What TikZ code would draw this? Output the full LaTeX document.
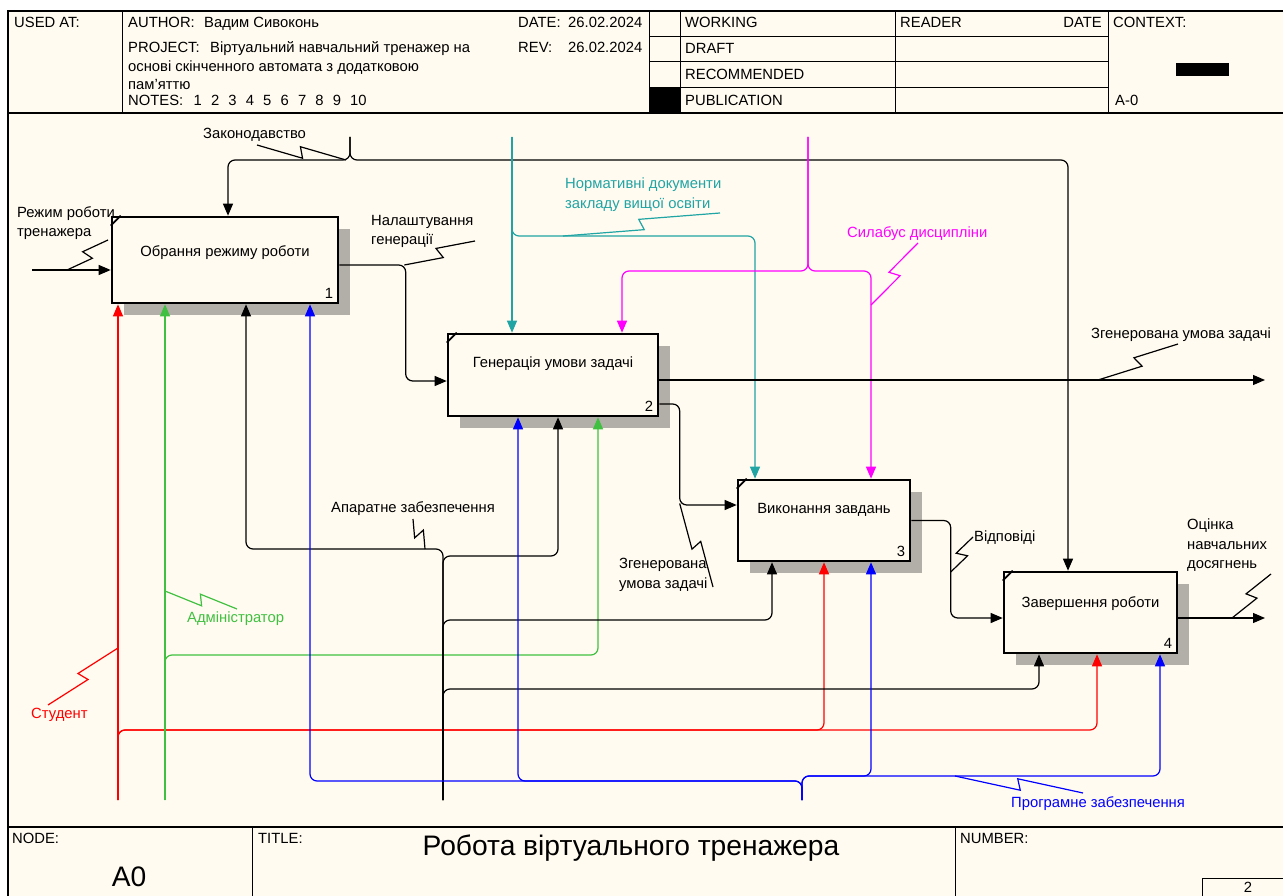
\documentclass[tikz,border=0pt]{standalone}
\usepackage{fontspec}
\setmainfont{Liberation Sans}
\usetikzlibrary{arrows.meta}
\usetikzlibrary{calc}
\usetikzlibrary{shadows}
\definecolor{paper}{RGB}{255,251,240}
\definecolor{boxgrey}{RGB}{178,175,168}
\definecolor{ired}{RGB}{255,0,0}
\definecolor{igreen}{RGB}{64,192,64}
\definecolor{iblue}{RGB}{0,0,255}
\definecolor{iteal}{RGB}{32,164,164}
\definecolor{ipink}{RGB}{255,0,255}
\tikzset{arr/.style = {-{Triangle[length=12pt, width=10pt]}, line width=1.2pt, rounded corners=7pt}}
\tikzset{box/.style = {draw, line width=2.6pt, fill=paper,
                       drop shadow={shadow xshift=12pt, shadow yshift=-12pt, fill=boxgrey, opacity=1}}}
\tikzset{lbl/.style = {inner sep=0, align=left, font=\fontsize{14.8}{19.5}\selectfont}}
\tikzset{hdr/.style = {inner sep=0, anchor=base west, font=\fontsize{14.8}{18.5}\selectfont}}
\tikzset{big/.style = {inner sep=0, anchor=base, font=\fontsize{28.2}{30}\selectfont}}
\newcommand{\zigline}[3][black]{%
  \coordinate (zigA) at (#2);
  \coordinate (zigB) at (#3);
  \draw [#1, line width=1.2pt] (zigA) -- ($(zigA)!0.5!(zigB)!2pt!(zigB)!5.5pt!-90:(zigB)$)
        -- ($(zigA)!0.5!(zigB)!-2pt!(zigB)!5.5pt!90:(zigB)$) -- (zigB);}

\begin{document}
\begin{tikzpicture}[x=1pt, y=-1pt]
  \useasboundingbox (0, 0) rectangle (1283, 896);
  \fill [paper] (8, 11) rectangle (1295, 900);
  \draw [line width=1.2pt] (8, 11) rectangle (1295, 900);
  \draw [line width=1.2pt] (8, 113) -- (1295, 113);
  \draw [line width=1.2pt] (8, 827) -- (1295, 827);

  \draw [line width=1pt] (122, 11) -- (122, 113);
  \draw [line width=1pt] (649, 11) -- (649, 113);
  \draw [line width=1pt] (680, 11) -- (680, 113);
  \draw [line width=1pt] (895, 11) -- (895, 113);
  \draw [line width=1pt] (1108, 11) -- (1108, 113);
  \draw [line width=1pt] (649, 37) -- (1108, 37);
  \draw [line width=1pt] (649, 62) -- (1108, 62);
  \draw [line width=1pt] (649, 88) -- (1108, 88);
  \fill (649, 88) rectangle (680, 113);
  \fill (1176, 63) rectangle (1229, 76);
  \draw [line width=1pt] (252, 827) -- (252, 900);
  \draw [line width=1pt] (955, 827) -- (955, 900);
  \draw [line width=1pt] (1202, 878) rectangle (1295, 900);

  \node [hdr] (usedat) at (14, 27.3) {USED AT:};
  \node [hdr] (author) at (128, 27.3) {AUTHOR:};
  \node [hdr] (authname) at (204, 27.3) {Вадим Сивоконь};
  \node [hdr] (proj) at (128, 52.3) {PROJECT:};
  \node [hdr] (projone) at (210, 52.3) {Віртуальний навчальний тренажер на};
  \node [hdr] (projtwo) at (128, 71.3) {основі скінченного автомата з додатковою};
  \node [hdr] (projthree) at (128, 89.3) {пам'яттю};
  \node [hdr] (notes) at (128, 105.3) {NOTES:};
  \foreach \i in {1,...,10}
    \node [hdr] (note\i) at (176 + 17.4*\i, 105.3) {\i};
  \node [hdr] (date) at (518, 27.3) {DATE:};
  \node [hdr] (dateval) at (568, 27.3) {26.02.2024};
  \node [hdr] (rev) at (518, 52.3) {REV:};
  \node [hdr] (revval) at (568, 52.3) {26.02.2024};
  \node [hdr] (working) at (685, 27.3) {WORKING};
  \node [hdr] (draft) at (685, 53.3) {DRAFT};
  \node [hdr] (recom) at (685, 79.3) {RECOMMENDED};
  \node [hdr] (publ) at (685, 105.3) {PUBLICATION};
  \node [hdr] (reader) at (900, 27.3) {READER};
  \node [hdr, anchor=base east] (readdate) at (1102, 27.3) {DATE};
  \node [hdr] (context) at (1113, 27.3) {CONTEXT:};
  \node [hdr] (ctxnode) at (1115, 105.3) {A-0};

  \node [hdr] (nodehdr) at (12, 843.3) {NODE:};
  \node [big] (nodeval) at (129, 886) {A0};
  \node [hdr] (titlehdr) at (258, 843.3) {TITLE:};
  \node [big] (title) at (631, 855) {Робота віртуального тренажера};
  \node [hdr] (numhdr) at (960, 843.3) {NUMBER:};
  \node [hdr, anchor=base] (pagenum) at (1248, 892) {2};

  \node [box, minimum width=226, minimum height=86] (b1) at (225, 260) {};
  \node [box, minimum width=210, minimum height=82] (b2) at (553, 375) {};
  \node [box, minimum width=172, minimum height=81] (b3) at (824, 520.5) {};
  \node [box, minimum width=173, minimum height=81] (b4) at (1090.5, 612.5) {};
  \foreach \b in {b1, b2, b3, b4}
    \draw [line width=1.8pt] ([yshift=-10pt]\b.north west) -- ([xshift=10pt]\b.north west);

  \node [lbl, anchor=base] (b1t) at ([yshift=3.7pt]b1.center) {Обрання режиму роботи};
  \node [lbl, anchor=base] (b2t) at ([yshift=7.7pt]b2.center) {Генерація умови задачі};
  \node [lbl, anchor=base] (b3t) at ([yshift=7.2pt]b3.center) {Виконання завдань};
  \node [lbl, anchor=base] (b4t) at ([yshift=5.2pt]b4.center) {Завершення роботи};
  \node [lbl, anchor=base east] (b1n) at ([shift={(-6pt, 6pt)}]b1.south east) {1};
  \node [lbl, anchor=base east] (b2n) at ([shift={(-6pt, 6pt)}]b2.south east) {2};
  \node [lbl, anchor=base east] (b3n) at ([shift={(-6pt, 6pt)}]b3.south east) {3};
  \node [lbl, anchor=base east] (b4n) at ([shift={(-6pt, 6pt)}]b4.south east) {4};

  \coordinate (modein) at (32, 270);
  \coordinate (law) at (350, 137);
  \coordinate (lawbus) at (350, 160);
  \coordinate (norm) at (512, 137);
  \coordinate (normbus) at (512, 236);
  \coordinate (syl) at (808, 137);
  \coordinate (sylbus) at (808, 271);
  \coordinate (genout) at (1265, 380);
  \coordinate (evalout) at (1265, 618);
  \coordinate (stud) at (118, 800);
  \coordinate (studbus) at (118, 730);
  \coordinate (admin) at (165, 800);
  \coordinate (adminbus) at (165, 655);
  \coordinate (hw) at (443, 800);
  \coordinate (hwbusl) at (443, 549);
  \coordinate (hwbusr) at (443, 556);
  \coordinate (hwbus3) at (443, 620);
  \coordinate (hwbus4) at (443, 689);
  \coordinate (soft) at (802, 800);
  \coordinate (softbusl) at (802, 781);
  \coordinate (softbusr) at (802, 776);

  \draw [arr] (modein) -- (modein -| b1.west);
  \draw [arr] (law) -- (lawbus) -| ([xshift=3pt]b1.north);
  \draw [arr] (law) -- (lawbus) -| ([xshift=-22.5pt]b4.north);
  \draw [arr] ([yshift=-5pt]b1.east) -| ([shift={(-41pt, -6pt)}]b2.west) -- ([yshift=-6pt]b2.west);
  \draw [arr, iteal] (norm) -- (norm |- b2.north);
  \draw [arr, iteal] (norm) -- (normbus) -| ([xshift=-69pt]b3.north);
  \draw [arr, ipink] (syl) -- (sylbus) -| ([xshift=69pt]b2.north);
  \draw [arr, ipink] (syl) -- (sylbus) -| ([xshift=47pt]b3.north);
  \draw [arr] ([yshift=-5pt]b2.east) -- (genout);
  \draw [arr] ([yshift=-29pt]b2.east) -| ([shift={(-57pt, 15.5pt)}]b3.west) -- ([yshift=15.5pt]b3.west);
  \draw [arr] (b3.east) -| ([shift={(-52pt, -5.5pt)}]b4.west) -- ([yshift=-5.5pt]b4.west);
  \draw [arr] ([yshift=-5.5pt]b4.east) -- (evalout);

  \draw [arr, ired] (stud) -- (stud |- b1.south);
  \draw [arr, ired] (stud) -- (studbus) -| (b3.south);
  \draw [arr, ired] (stud) -- (studbus) -| ([xshift=6.5pt]b4.south);
  \draw [arr, igreen] (admin) -- (admin |- b1.south);
  \draw [arr, igreen] (admin) -- (adminbus) -| ([xshift=45pt]b2.south);
  \draw [arr] (hw) -- (hwbusl) -| ([xshift=21pt]b1.south);
  \draw [arr] (hw) -- (hwbusr) -| ([xshift=5pt]b2.south);
  \draw [arr] (hw) -- (hwbus3) -| ([xshift=-52pt]b3.south);
  \draw [arr] (hw) -- (hwbus4) -| ([xshift=-51.5pt]b4.south);
  \draw [arr, iblue] (soft) -- (softbusl) -| ([xshift=85pt]b1.south);
  \draw [arr, iblue] (soft) -- (softbusl) -| ([xshift=-35pt]b2.south);
  \draw [arr, iblue] (soft) -- (softbusr) -| ([xshift=47pt]b3.south);
  \draw [arr, iblue] (soft) -- (softbusr) -| ([xshift=69.5pt]b4.south);

  \node [lbl, anchor=base west] (lawl) at (203, 138.3) {Законодавство};
  \coordinate (lawz) at (257, 145);
  \zigline{[xshift=-4pt]lawbus}{lawz}
  \node [lbl, anchor=north west] (model) at (17, 206) {Режим роботи\\тренажера};
  \coordinate (modez) at (108, 240);
  \zigline{[xshift=35pt]modein}{modez}
  \node [lbl, anchor=north west] (setl) at (371, 215) {Налаштування\\генерації};
  \coordinate (setz) at (475, 241);
  \zigline{[shift={(65pt, -5pt)}]b1.east}{setz}
  \node [lbl, anchor=north west, iteal] (norml) at (565, 178) {Нормативні документи\\закладу вищої освіти};
  \coordinate (normz) at (720, 213);
  \zigline[iteal]{[xshift=51pt]normbus}{normz}
  \node [lbl, anchor=base west, ipink] (syll) at (847, 237.3) {Силабус дисципліни};
  \coordinate (sylz) at (918, 243);
  \zigline[ipink]{[shift={(63pt, -34pt)}]sylbus}{sylz}
  \node [lbl, anchor=base west] (genl) at (1091, 338.3) {Згенерована умова задачі};
  \coordinate (genz) at (1178, 344);
  \zigline{[xshift=-167pt]genout}{genz}
  \node [lbl, anchor=north west] (gentwol) at (619, 558) {Згенерована\\умова задачі};
  \coordinate (gentwoz) at (713, 587);
  \zigline{[shift={(-57pt, 17pt)}]b3.west}{gentwoz}
  \node [lbl, anchor=base west] (answl) at (974, 541.3) {Відповіді};
  \coordinate (answz) at (973, 537);
  \zigline{[shift={(-52pt, 40.5pt)}]b4.west}{answz}
  \node [lbl, anchor=north west] (evall) at (1187, 519) {Оцінка\\навчальних\\досягнень};
  \coordinate (evalz) at (1271, 574);
  \zigline{[xshift=-33pt]evalout}{evalz}
  \node [lbl, anchor=base west] (hwl) at (331, 512.3) {Апаратне забезпечення};
  \coordinate (hwz) at (413, 519);
  \zigline{[xshift=-18pt]hwbusl}{hwz}
  \node [lbl, anchor=base west, igreen] (adminl) at (187, 622.3) {Адміністратор};
  \coordinate (adminz) at (237, 609);
  \zigline[igreen]{[yshift=64pt]adminbus}{adminz}
  \node [lbl, anchor=base west, ired] (studl) at (31, 718.3) {Студент};
  \coordinate (studz) at (48, 705);
  \zigline[ired]{[yshift=82pt]studbus}{studz}
  \node [lbl, anchor=base west, iblue] (softl) at (1011, 807.3) {Програмне забезпечення};
  \coordinate (softz) at (1083, 793);
  \zigline[iblue]{[xshift=153pt]softbusr}{softz}
\end{tikzpicture}
\end{document}
